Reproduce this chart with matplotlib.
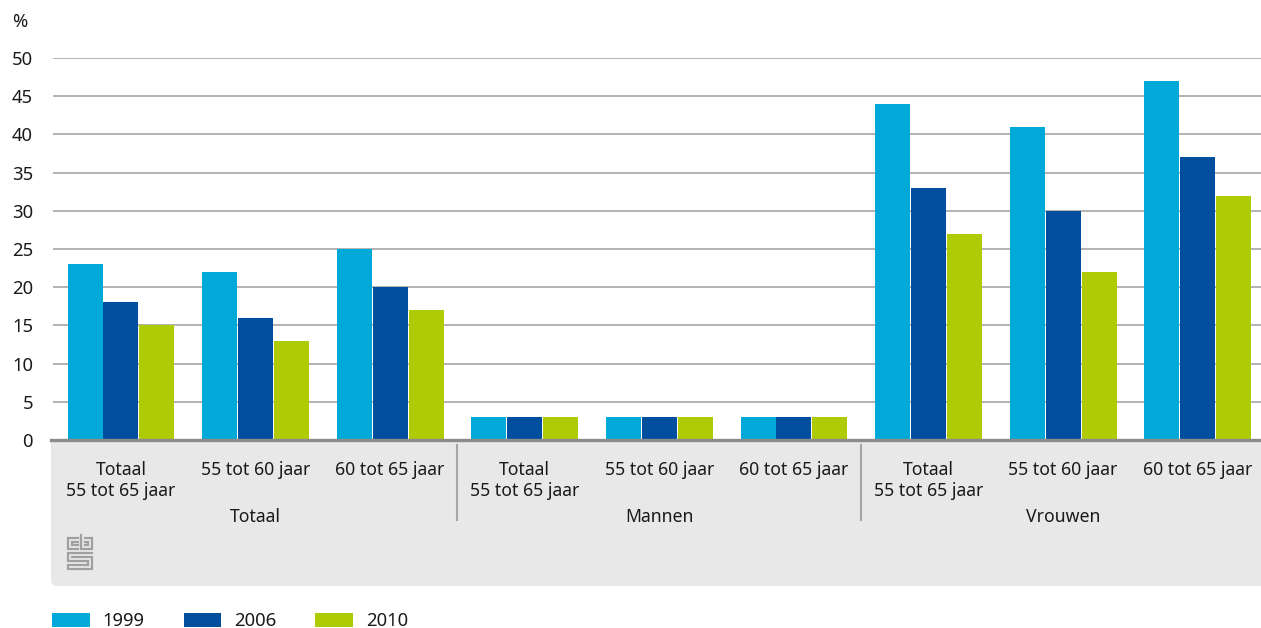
import matplotlib
matplotlib.use("Agg")
import numpy as np
import matplotlib.pyplot as plt
from matplotlib.patches import FancyBboxPatch, Rectangle
from matplotlib.lines import Line2D
from matplotlib.transforms import IdentityTransform

# data (percentages)
series = ["1999", "2006", "2010"]
v1999 = [23, 22, 25, 3, 3, 3, 44, 41, 47]
v2006 = [18, 16, 20, 3, 3, 3, 33, 30, 37]
v2010 = [15, 13, 17, 3, 3, 3, 27, 22, 32]
sub_labels = ["Totaal\n55 tot 65 jaar", "55 tot 60 jaar", "60 tot 65 jaar"] * 3
group_labels = ["Totaal", "Mannen", "Vrouwen"]
colors = ["#00a9d8", "#004f9f", "#afcb05"]
yticks = [0, 5, 10, 15, 20, 25, 30, 35, 40, 45, 50]

W, H = 1261, 628
plt.rcParams['font.family'] = ['Noto Sans', 'DejaVu Sans']
fs = 13.3
fs_cat = 12.7
txt = "#1a1a1a"

fig = plt.figure(figsize=(W / 100, H / 100), dpi=100)


def fx(x):
    return x / W


def fy(y):
    return 1 - y / H


# gray label box under the axis (pixel coords, origin bottom-left)
box = FancyBboxPatch((57, H - 580), W - 57 + 10, 134, boxstyle="round,pad=6,rounding_size=6",
                     transform=IdentityTransform(), facecolor="#e8e8e8", edgecolor="none", zorder=-2)
fig.patches.append(box)
fig.patches.append(Rectangle((51, H - 470), W - 51, 30, transform=IdentityTransform(),
                             facecolor="#e8e8e8", edgecolor="none", zorder=-2))

ax = fig.add_axes([fx(53), fy(440), fx(1261) - fx(53), fy(58) - fy(440)])
ax.set_facecolor("none")
ax.set_zorder(2)

x = np.arange(len(v1999))
bw = 0.26
step = 0.267
for k, vals in enumerate([v1999, v2006, v2010]):
    ax.bar(x + (k - 1) * step, vals, width=bw, color=colors[k], label=series[k], zorder=3)

ax.set_xlim(-0.505, 8.47)
ax.set_ylim(0, 50)
ax.set_yticks(yticks)
ax.yaxis.grid(True, color="#a6a6a6", lw=1.2, zorder=0)
ax.set_axisbelow(True)
ax.tick_params(axis="y", length=0, pad=14.4, labelsize=fs, labelcolor=txt)
ax.tick_params(axis="x", length=0, labelbottom=False)
for s in ax.spines.values():
    s.set_visible(False)

# baseline
fig.lines.append(Line2D([51, W], [H - 440, H - 440], transform=IdentityTransform(),
                        color="#8c8c8c", lw=2.4, zorder=5))

# category labels
for i, lab in enumerate(sub_labels):
    ax.text(i, -2.7, lab, ha="center", va="top", fontsize=fs_cat, color=txt,
            linespacing=1.25, clip_on=False)
for g, lab in enumerate(group_labels):
    ax.text(3 * g + 1, -8.9, lab, ha="center", va="top", fontsize=fs_cat, color=txt, clip_on=False)
for xs in [2.5, 5.5]:
    ax.plot([xs, xs], [-0.6, -10.5], color="#a6a6a6", lw=1.5, clip_on=False)

fig.text(fx(12), fy(22), "%", fontsize=fs, color=txt, va="center", ha="left")

# cbs logo (rough line drawing)
lc = "#a0a0a0"
logo = [
    [(78, 538), (68, 538), (68, 549), (78, 549)],
    [(78, 542), (72, 542), (72, 545), (78, 545)],
    [(81, 535), (81, 549), (92, 549), (92, 538), (85, 538)],
    [(85, 542), (88, 542), (88, 545), (85, 545)],
    [(92, 553), (68, 553), (68, 561), (88, 561), (88, 565), (68, 565), (68, 569), (92, 569), (92, 557), (72, 557)],
]
for pts in logo:
    xs_, ys_ = zip(*pts)
    fig.lines.append(Line2D([fx(v) for v in xs_], [fy(v) for v in ys_], transform=fig.transFigure,
                            color=lc, lw=1.6, solid_joinstyle="miter"))

# legend
fig.legend(loc="center left", bbox_to_anchor=(fx(52), fy(621)), ncol=3, frameon=False,
           fontsize=fs, handlelength=2.05, handleheight=0.8, handletextpad=0.7,
           columnspacing=2.1, borderpad=0, borderaxespad=0, labelcolor=txt)

fig.savefig("out.png", dpi=100)
